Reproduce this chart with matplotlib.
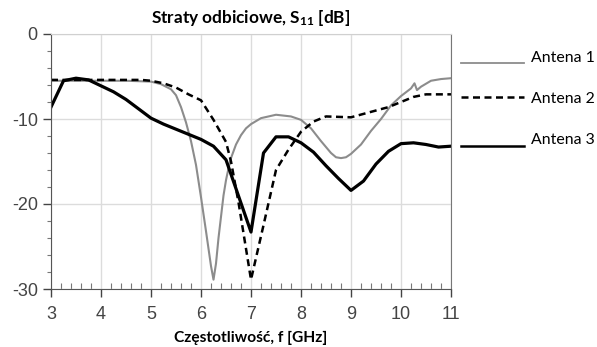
import matplotlib
matplotlib.use("Agg")
import numpy as np
import matplotlib.pyplot as plt
from matplotlib.ticker import MultipleLocator
from matplotlib.legend_handler import HandlerLine2D

# Antena 1 (szara)
f1 = [3.0, 4.0, 4.5, 5.0, 5.2, 5.4, 5.5, 5.6, 5.7, 5.8, 5.9, 6.0, 6.1, 6.2, 6.25,
      6.3, 6.35, 6.4, 6.45, 6.5, 6.55, 6.6, 6.7, 6.8, 6.9, 7.0, 7.2, 7.5, 7.8, 8.0,
      8.2, 8.4, 8.6, 8.7, 8.8, 8.9, 9.0, 9.2, 9.4, 9.6, 9.8, 10.0, 10.2, 10.27, 10.32,
      10.4, 10.6, 10.8, 11.0]
s1 = [-5.5, -5.5, -5.5, -5.6, -5.9, -6.5, -7.2, -8.6, -10.4, -12.6, -15.4, -19.2, -23.2, -27.3, -28.9,
      -27.0, -24.0, -21.5, -19.0, -17.2, -15.8, -14.6, -13.0, -11.9, -11.1, -10.6, -9.9, -9.5, -9.7, -10.1,
      -11.1, -12.6, -14.0, -14.5, -14.6, -14.5, -14.1, -13.0, -11.4, -10.0, -8.4, -7.3, -6.4, -5.8, -6.6,
      -6.2, -5.5, -5.3, -5.2]

# Antena 2 (przerywana)
f2 = [3.0, 4.0, 4.8, 5.0, 5.25, 5.5, 5.75, 6.0, 6.25, 6.5, 6.6, 6.75, 7.0, 7.25, 7.5,
      7.75, 8.0, 8.25, 8.5, 9.0, 9.5, 9.75, 10.0, 10.25, 10.5, 11.0]
s2 = [-5.4, -5.4, -5.4, -5.5, -5.8, -6.3, -7.1, -7.8, -10.1, -12.7, -15.0, -19.8, -28.9, -22.5, -16.0,
      -13.6, -11.5, -10.3, -9.7, -9.8, -9.0, -8.6, -8.0, -7.4, -7.1, -7.1]

# Antena 3 (czarna)
f3 = [3.0, 3.25, 3.5, 3.75, 4.0, 4.25, 4.5, 4.75, 5.0, 5.25, 5.5, 5.75, 6.0, 6.25, 6.5,
      7.0, 7.25, 7.5, 7.75, 8.0, 8.25, 8.5, 8.75, 9.0, 9.25, 9.5, 9.75, 10.0, 10.25, 10.5, 10.75, 11.0]
s3 = [-8.6, -5.5, -5.2, -5.4, -6.1, -6.8, -7.7, -8.8, -9.9, -10.6, -11.2, -11.8, -12.4, -13.2, -14.8,
      -23.3, -14.0, -12.1, -12.1, -12.8, -13.9, -15.5, -17.0, -18.4, -17.3, -15.3, -13.8, -12.9, -12.8, -13.0, -13.3, -13.2]

labels = ["Antena 1", "Antena 2", "Antena 3"]


class ShiftedLine(HandlerLine2D):
    # legend line drawn a bit below the text, like in the original
    def __init__(self, dy=0.0, lw=None, **kw):
        super().__init__(**kw)
        self.dy = dy
        self.lw = lw

    def create_artists(self, legend, orig_handle, xdescent, ydescent, width, height, fontsize, trans):
        artists = super().create_artists(legend, orig_handle, xdescent, ydescent, width, height, fontsize, trans)
        for a in artists:
            a.set_ydata(np.asarray(a.get_ydata()) - self.dy)
            if self.lw:
                a.set_linewidth(self.lw)
        return artists


plt.rcParams['font.family'] = ['Liberation Sans', 'DejaVu Sans']
plt.rcParams['mathtext.fontset'] = 'custom'
plt.rcParams['mathtext.bf'] = 'Lato:bold'
plt.rcParams['mathtext.rm'] = 'Lato'
plt.rcParams['mathtext.default'] = 'bf'

fig = plt.figure(figsize=(5.97, 3.47), dpi=100)
ax = fig.add_axes([51 / 597, 1 - 289 / 347, 400 / 597, 255 / 347])

l1, = ax.plot(f1, s1, color='#8c8c8c', lw=1.5, label=labels[0])
l2, = ax.plot(f2, s2, color='black', lw=1.8, ls=(0, (2.8, 1.8)), label=labels[1])
l3, = ax.plot(f3, s3, color='black', lw=2.3, label=labels[2])

ax.set_xlim(3, 11)
ax.set_ylim(-30, 0)
ax.xaxis.set_major_locator(MultipleLocator(1))
ax.xaxis.set_minor_locator(MultipleLocator(0.2))
ax.yaxis.set_major_locator(MultipleLocator(10))
ax.yaxis.set_minor_locator(MultipleLocator(2))
ax.set_yticks([0, -10, -20, -30], ['0', '-10', '-20', '-30'])

ax.grid(True, which='major', color='#dcdcdc', lw=1)
ax.set_axisbelow(True)
ax.tick_params(axis='both', which='major', labelsize=13, colors='#444444', length=6, width=1, direction='out')
ax.tick_params(axis='x', which='major', pad=6)
ax.tick_params(axis='x', which='minor', direction='in', length=4, width=0.8, colors='#777777')
ax.tick_params(axis='y', which='minor', direction='out', length=3, width=0.8, colors='#777777')

for side in ['left', 'bottom']:
    ax.spines[side].set_color('#555555')
ax.spines['right'].set_color('#777777')
ax.spines['top'].set_color('#d0d0d0')

ax.set_title(r'Straty odbiciowe, S$_{11}$ [dB]', family='Lato', fontweight='bold', fontsize=12.4, pad=8)
ax.set_xlabel('Częstotliwość, f [GHz]', family='Lato', fontweight='bold', fontsize=11.2, labelpad=6)

ax.legend(loc='upper left', bbox_to_anchor=(1.025, 0.935), frameon=False,
          prop={'family': 'Lato', 'size': 11.4}, handlelength=4.0, handletextpad=0.45,
          labelspacing=1.72, borderaxespad=0, borderpad=0,
          handler_map={l1: ShiftedLine(dy=5, lw=1.3), l2: ShiftedLine(dy=0),
                       l3: ShiftedLine(dy=5, lw=1.8)})

fig.savefig('out.png', dpi=100)
